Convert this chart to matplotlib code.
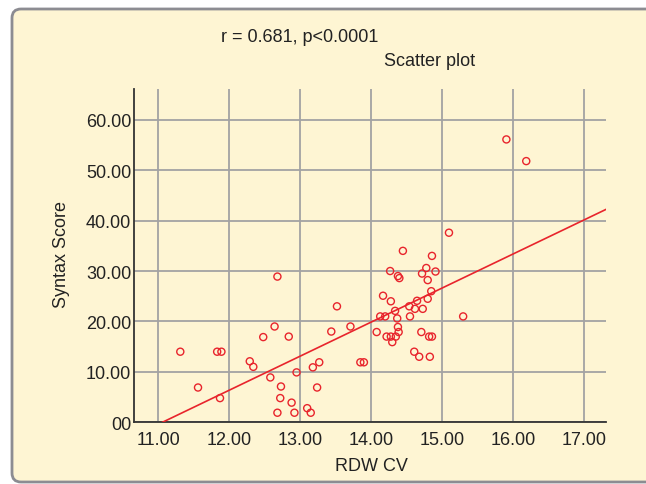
"""
Scatter plot of Syntax Score vs RDW CV with fitted regression line
"""
import numpy as np
import matplotlib.pyplot as plt
from matplotlib.patches import FancyBboxPatch, PathPatch
from matplotlib.path import Path
from matplotlib.transforms import IdentityTransform

plt.rcParams['font.family'] = ['Liberation Sans', 'DejaVu Sans']

# values
rdw_cv = [15.91, 16.19, 15.10, 14.45, 14.86, 14.78, 14.27, 14.91, 14.72, 14.38,
          14.40, 14.80, 14.85, 14.17, 14.28, 14.65, 14.80, 14.54, 14.62, 14.73,
          14.34, 14.55, 14.13, 14.20, 14.37, 15.30, 14.38, 14.39, 14.08, 14.71,
          14.22, 14.28, 14.35, 14.30, 14.82, 14.86, 14.61, 14.68, 14.83, 13.52,
          13.71, 13.44, 13.85, 13.90, 12.68, 12.64, 12.48, 12.84, 11.31, 11.83,
          11.89, 12.29, 12.34, 12.58, 12.95, 13.18, 13.27, 11.56, 12.73, 13.24,
          11.87, 12.72, 12.88, 13.10, 12.68, 12.92, 13.15]
syntax_score = [56.1, 51.8, 37.6, 34.0, 33.0, 30.6, 30.0, 29.9, 29.5, 29.0,
                28.6, 28.2, 26.0, 25.1, 24.0, 24.1, 24.5, 23.0, 22.5, 22.5,
                22.1, 21.0, 21.0, 21.0, 20.6, 21.0, 18.9, 17.9, 17.9, 17.9,
                17.0, 17.0, 17.0, 15.9, 17.0, 17.0, 14.0, 13.0, 13.0, 23.0,
                19.0, 18.0, 11.9, 11.9, 28.9, 19.0, 16.9, 17.0, 14.0, 14.0,
                14.0, 12.1, 11.0, 8.9, 9.9, 10.9, 11.9, 6.9, 7.1, 6.9,
                4.8, 4.8, 3.9, 2.8, 1.9, 1.9, 1.9]

x_ticks = [11.0, 12.0, 13.0, 14.0, 15.0, 16.0, 17.0]
x_tick_labels = ['11.00', '12.00', '13.00', '14.00', '15.00', '16.00', '17.00']
y_ticks = [0, 10, 20, 30, 40, 50, 60]
y_tick_labels = ['00', '10.00', '20.00', '30.00', '40.00', '50.00', '60.00']

x = np.array(rdw_cv)
y = np.array(syntax_score)
slope, intercept = np.polyfit(x, y, 1)

fig = plt.figure(figsize=(6.46, 4.85), dpi=100)

# yellow panel fill, running off the right edge
panel = FancyBboxPatch((12 / 646, 1 - 483 / 485), 1.5, 473 / 485,
                       boxstyle='round,pad=0,rounding_size=0.012',
                       transform=fig.transFigure, facecolor='#fef5d3',
                       edgecolor='none', zorder=-5)
fig.patches.append(panel)

# panel border: top, left and bottom only (pixel coords, origin bottom-left)
r = 9
L, T, B, R = 12, 475, 2, 760
verts = [(R, T), (L + r, T), (L, T), (L, T - r), (L, B + r), (L, B), (L + r, B), (R, B)]
codes = [Path.MOVETO, Path.LINETO, Path.CURVE3, Path.CURVE3,
         Path.LINETO, Path.CURVE3, Path.CURVE3, Path.LINETO]
border = PathPatch(Path(verts, codes), transform=IdentityTransform(),
                   fill=False, edgecolor='#8c8c92', linewidth=2, zorder=-4)
fig.patches.append(border)

ax = fig.add_axes([134 / 646, 1 - 423.3 / 485, 472 / 646, 333.3 / 485])
ax.set_facecolor('none')

ax.set_xlim(10.657, 17.315)
ax.set_ylim(0, 66.1)
ax.set_xticks(x_ticks)
ax.set_xticklabels(x_tick_labels)
ax.set_yticks(y_ticks)
ax.set_yticklabels(y_tick_labels)
ax.tick_params(length=0, labelsize=13, colors='#222222')
ax.tick_params(axis='x', pad=6)
ax.tick_params(axis='y', pad=2)

ax.grid(True, color='#a3a3a3', linewidth=1.3)
ax.set_axisbelow(True)
for side in ['top', 'right']:
    ax.spines[side].set_visible(False)
for side in ['left', 'bottom']:
    ax.spines[side].set_color('#333333')
    ax.spines[side].set_linewidth(1.3)

xs = np.array(ax.get_xlim())
ax.plot(xs, slope * xs + intercept, color='#e8242c', linewidth=1.2, zorder=3)
ax.scatter(x, y, s=26, facecolors='none', edgecolors='#e8242c', linewidths=1.0, zorder=4)

fig.text(300 / 646, 1 - 37 / 485, 'r = 0.681, p<0.0001', ha='center', va='center',
         fontsize=13, color='#222222')
fig.text(430 / 646, 1 - 61 / 485, 'Scatter plot', ha='center', va='center',
         fontsize=13, color='#222222')
fig.text(62 / 646, 1 - 255 / 485, 'Syntax Score', ha='center', va='center',
         rotation=90, fontsize=13, color='#222222')
fig.text(371 / 646, 1 - 467 / 485, 'RDW CV', ha='center', va='center',
         fontsize=13, color='#222222')

plt.savefig('out.png', dpi=100)
print('Saved: out.png')
